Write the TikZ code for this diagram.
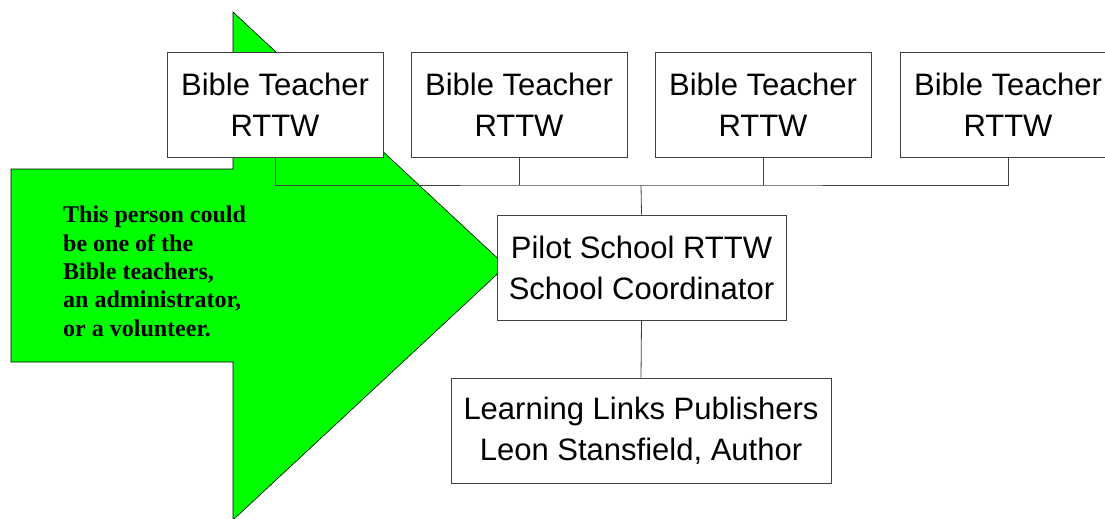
\documentclass[tikz,border=0pt]{standalone}
\usepackage{fontspec}
\setmainfont{Liberation Serif}
\setsansfont{Liberation Sans}
\usepackage{tikz}
\usetikzlibrary{calc}
\definecolor{brightgreen}{RGB}{0,255,0}
\newcommand{\clrhead}{brightgreen}
\tikzset{
  rolebox/.style={draw=black!75, fill=white, line width=0.8pt, minimum height=105pt,
    inner sep=0pt, align=center, font=\sffamily\fontsize{31}{41}\selectfont},
  link/.style={draw=black!75, line width=0.8pt}
}

\begin{document}
\begin{tikzpicture}[x=1pt, y=-1pt]
    \clip (0,0) rectangle (1105,519);

    \filldraw[fill=\clrhead, draw=black, line width=0.6pt] (11,169) -- (233,169) -- (233,12) -- (506,266)
        -- (233,520) -- (233,362) -- (11,362) -- cycle;

    % last line of the note sits on y=336
    \node[anchor=base west, align=left, inner sep=0pt, font=\bfseries\fontsize{24}{28.3}\selectfont] (note) at (63,336)
        {This person could\\be one of the\\Bible teachers,\\an administrator,\\or a volunteer.};

    \node[rolebox, minimum width=216pt] (t1) at (275,104.5) {Bible Teacher\\RTTW};
    \node[rolebox, minimum width=216pt] (t2) at (519,104.5) {Bible Teacher\\RTTW};
    \node[rolebox, minimum width=216pt] (t3) at (763,104.5) {Bible Teacher\\RTTW};
    \node[rolebox, minimum width=216pt] (t4) at (1008,104.5) {Bible Teacher\\RTTW};

    \node[rolebox, minimum width=289pt] (pilot) at (641.5,267.5) {Pilot School RTTW\\School Coordinator};
    \node[rolebox, minimum width=380pt] (links) at (641,430.5) {Learning Links Publishers\\Leon Stansfield, Author};

    \coordinate (bus) at (641,185);
    \draw[link] (t1.south) |- (bus) -| (t4.south);
    \draw[link] (t2.south) -- (t2.south |- bus);
    \draw[link] (t3.south) -- (t3.south |- bus);
    \draw[link] (bus) -- (pilot.north);
    \draw[link] (pilot.south) -- (links.north);

\end{tikzpicture}
\end{document}
